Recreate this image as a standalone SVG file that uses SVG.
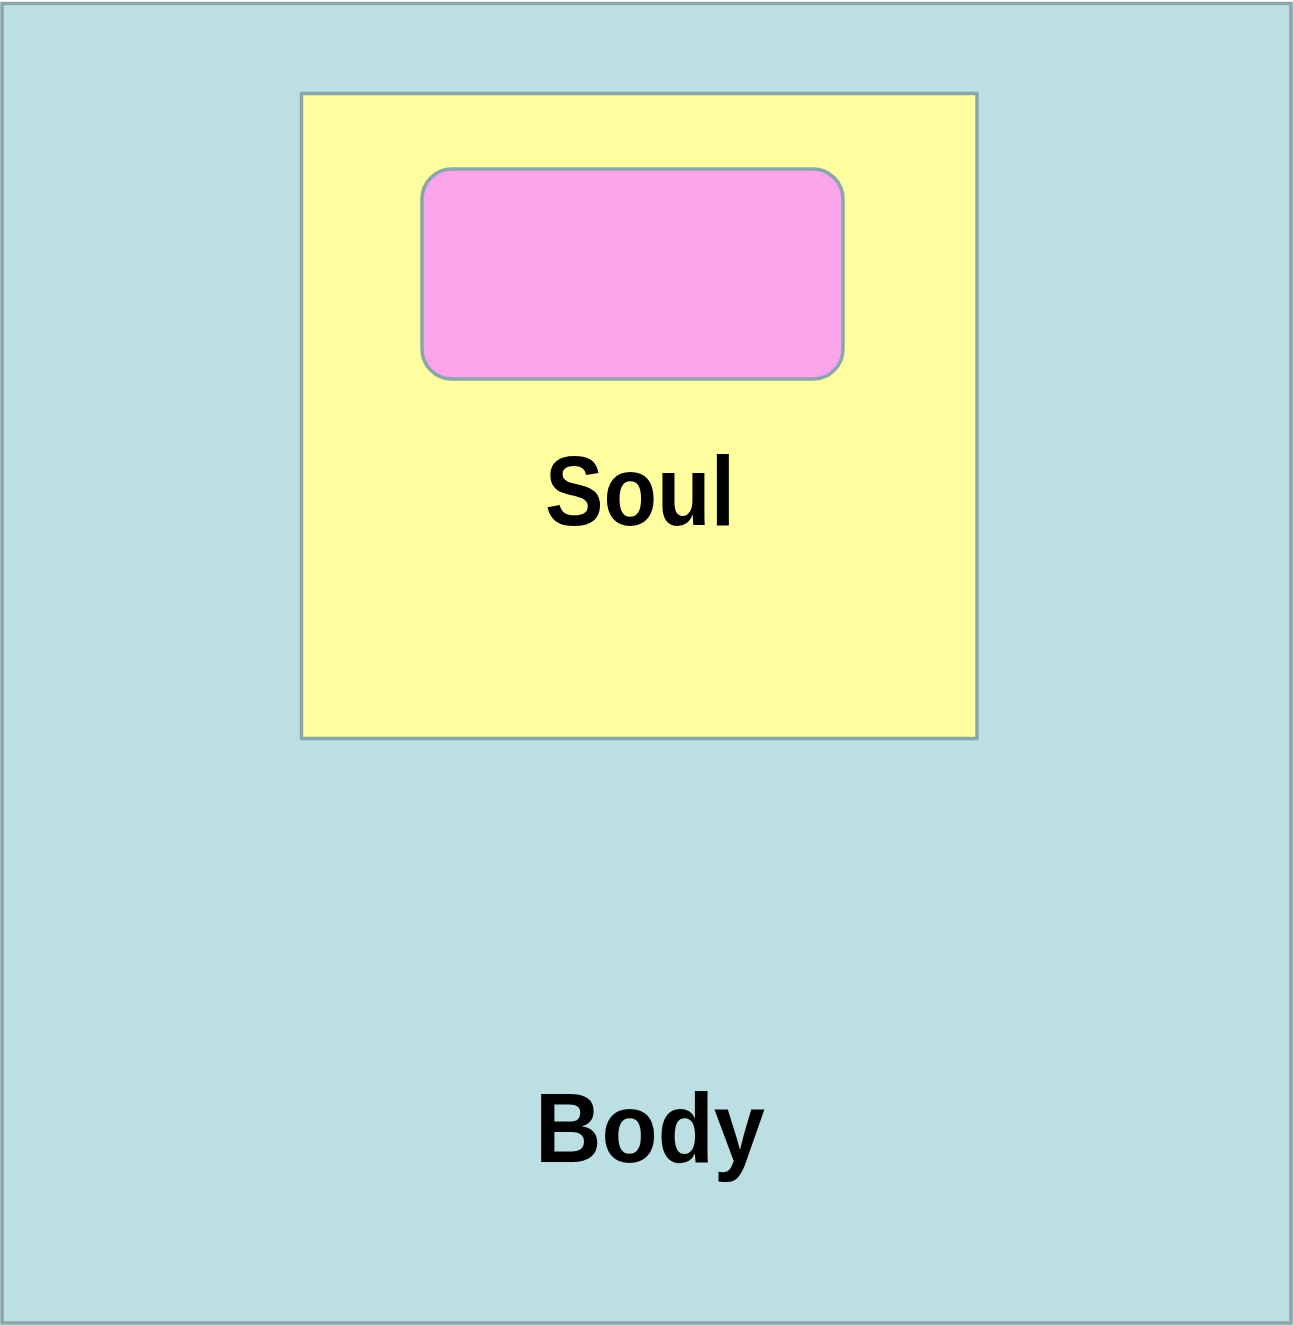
<svg xmlns="http://www.w3.org/2000/svg" width="1293" height="1325" viewBox="0 0 1293 1325">
<style>
.box{stroke:#8aa6ab;stroke-width:3.5}
.lbl{font-family:"Liberation Sans",Arial,sans-serif;font-weight:bold;font-size:98px;fill:#000;text-anchor:middle}
</style>
<rect width="1293" height="1325" fill="#ffffff"/>
<g id="body">
<rect class="box" x="2" y="3.5" width="1289" height="1319.5" fill="#bbdfe3"/>
<text class="lbl" x="650" y="1162" textLength="230" lengthAdjust="spacingAndGlyphs">Body</text>
</g>
<g id="soul">
<rect class="box" x="301.5" y="93.5" width="675.5" height="645" fill="#ffff9f"/>
<text class="lbl" x="640" y="525" textLength="190" lengthAdjust="spacingAndGlyphs">Soul</text>
</g>
<g id="inner">
<rect class="box" x="422" y="169" width="421" height="210" rx="30" fill="#fba3eb"/>
</g>
<g id="connectors"></g>
</svg>
